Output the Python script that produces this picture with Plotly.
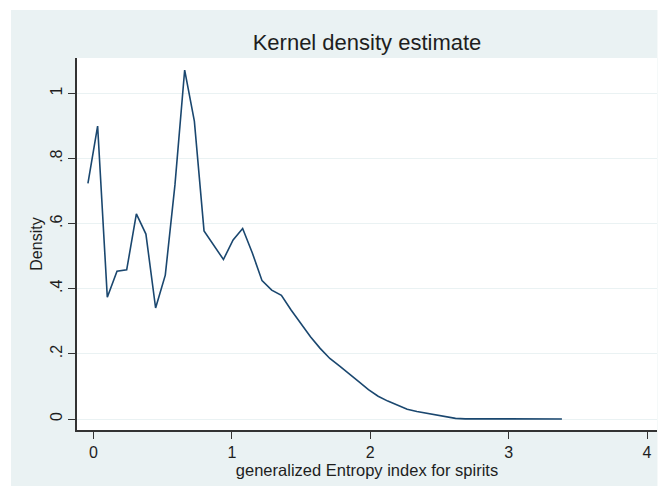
import plotly.graph_objects as go

# Kernel density estimate evaluation grid (x) and densities (y)
x_vals = [-0.040, 0.030, 0.100, 0.170, 0.240, 0.310, 0.379, 0.449, 0.519, 0.589,
          0.659, 0.729, 0.799, 0.869, 0.939, 1.009, 1.078, 1.148, 1.218, 1.288,
          1.358, 1.428, 1.498, 1.568, 1.638, 1.708, 1.777, 1.847, 1.917, 1.987,
          2.057, 2.127, 2.197, 2.267, 2.337, 2.407, 2.476, 2.546, 2.616, 2.686,
          2.756, 2.826, 2.896, 2.966, 3.036, 3.106, 3.175, 3.245, 3.315, 3.385]
density = [0.724, 0.900, 0.374, 0.454, 0.458, 0.630, 0.568, 0.341, 0.442, 0.720,
           1.072, 0.915, 0.578, 0.535, 0.490, 0.550, 0.585, 0.510, 0.425, 0.396,
           0.380, 0.335, 0.294, 0.253, 0.217, 0.186, 0.163, 0.140, 0.115, 0.090,
           0.070, 0.055, 0.042, 0.030, 0.023, 0.018, 0.013, 0.007, 0.002, 0.0005,
           0.0003, 0.0002, 0.0001, 0.0001, 0.0001, 0.0, 0.0, 0.0, 0.0, 0.0]

x_ticks = [0, 1, 2, 3, 4]
x_tick_labels = ["0", "1", "2", "3", "4"]
y_ticks = [0, 0.2, 0.4, 0.6, 0.8, 1.0]
y_tick_labels = ["0", ".2", ".4", ".6", ".8", "1"]

title_text = "Kernel density estimate"
x_title = "generalized Entropy index for spirits"
y_title = "Density"

BG = "#EAF2F3"
LINE = "#1A476F"
FONT = "Liberation Sans, Arial, sans-serif"

W, H = 662, 486
ML, MR, MT, MB = 77, 5, 58, 56
PW = W - ML - MR
PH = H - MT - MB


def px_x(p):
    return (p - ML) / PW


def px_y(q):
    return (H - MB - q) / PH


fig = go.Figure()
fig.add_trace(go.Scatter(x=x_vals, y=density, mode="lines",
                         line=dict(color=LINE, width=1.6), showlegend=False,
                         hoverinfo="skip"))

# white outer border like the original image
shapes = [
    dict(type="rect", xref="paper", yref="paper", x0=px_x(-5), x1=px_x(W + 5),
         y0=px_y(10), y1=px_y(-5), fillcolor="white", line=dict(width=0), layer="above"),
    dict(type="rect", xref="paper", yref="paper", x0=px_x(-5), x1=px_x(11),
         y0=px_y(H + 5), y1=px_y(-5), fillcolor="white", line=dict(width=0), layer="above"),
    dict(type="rect", xref="paper", yref="paper", x0=px_x(657.5), x1=px_x(W + 5),
         y0=px_y(H + 5), y1=px_y(-5), fillcolor="white", line=dict(width=0), layer="above"),
]

fig.update_layout(
    width=W, height=H,
    margin=dict(l=ML, r=MR, t=MT, b=MB, pad=0),
    paper_bgcolor=BG, plot_bgcolor="white",
    font=dict(family=FONT, color="#1e1e1e", size=16),
    title=dict(text=title_text, x=0.5, xanchor="center", xref="paper",
               y=1 - 42 / H, yanchor="middle", font=dict(size=22, color="#1e1e1e")),
    shapes=shapes,
    xaxis=dict(range=[-0.119, 4.072], tickvals=x_ticks, ticktext=x_tick_labels,
               showgrid=False, zeroline=False, showline=True, linecolor="#333333",
               linewidth=1.5, ticks="outside", ticklen=7, tickwidth=1.2,
               tickcolor="#333333", tickfont=dict(size=16),
               title=dict(text=x_title, standoff=0, font=dict(size=16.5))),
    yaxis=dict(range=[-0.0338, 1.109], tickvals=y_ticks, ticktext=y_tick_labels,
               tickangle=-90, showgrid=True, gridcolor=BG, gridwidth=1.2,
               zeroline=False, showline=True, linecolor="#333333", linewidth=1.5,
               ticks="outside", ticklen=7, tickwidth=1.2, tickcolor="#333333",
               tickfont=dict(size=16),
               title=dict(text=y_title, standoff=1, font=dict(size=16))),
)

fig.write_html("out.html")
